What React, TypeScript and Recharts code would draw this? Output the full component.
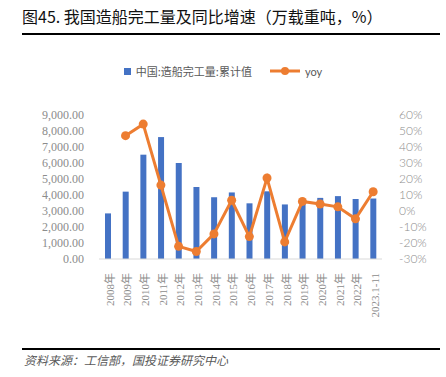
import { ComposedChart, Bar, Line, XAxis, YAxis, Legend } from "recharts";

const years = [
  "2008年", "2009年", "2010年", "2011年", "2012年", "2013年", "2014年", "2015年",
  "2016年", "2017年", "2018年", "2019年", "2020年", "2021年", "2022年", "2023.1-11",
];
const completed = [
  2850, 4210, 6520, 7620, 6000, 4500, 3860, 4160, 3480, 4230, 3410, 3560, 3820, 3930, 3750, 3780,
];
const yoy = [
  null, 47.1, 54.3, 16.2, -22.1, -25.3, -14.3, 6.7, -16.0, 20.6, -19.3, 6.0, 4.4, 2.6, -4.9, 12.0,
];
const leftTicks = [0, 1000, 2000, 3000, 4000, 5000, 6000, 7000, 8000, 9000];
const rightTicks = [-30, -20, -10, 0, 10, 20, 30, 40, 50, 60];

const BLUE = "#4472C4";
const ORANGE = "#ED7D31";
const TICK = "#8c8c8c";
const SERIF = "'Liberation Serif', 'Times New Roman', 'Noto Sans CJK SC', serif";

const data = years.map((y, i) => ({ year: y, v: completed[i], yoy: yoy[i] }));

const fmtLeft = (v: number) =>
  v.toLocaleString("en-US", { minimumFractionDigits: 2, maximumFractionDigits: 2 });

function LegendBox() {
  return (
    <div style={{ display: "flex", alignItems: "center", justifyContent: "center", fontFamily: "'Noto Sans CJK SC', sans-serif", fontSize: 11, color: "#595959" }}>
      <span style={{ width: 7, height: 7, background: BLUE, display: "inline-block", marginRight: 5 }} />
      <span style={{ marginRight: 18 }}>中国:造船完工量:累计值</span>
      <svg width={30} height={10} style={{ marginRight: 5 }}>
        <line x1={0} y1={5} x2={30} y2={5} stroke={ORANGE} strokeWidth={3} />
        <circle cx={15} cy={5} r={4} fill={ORANGE} />
      </svg>
      <span style={{ fontFamily: "Lato, sans-serif" }}>yoy</span>
    </div>
  );
}

export default function App() {
  return (
    <div style={{ position: "absolute", left: 0, top: 0, width: 446, height: 377, background: "#fff" }}>
      <div style={{ position: "absolute", left: 22, top: 4, fontFamily: "'Noto Sans CJK SC', sans-serif", fontSize: 16, fontWeight: 400, color: "#111", whiteSpace: "nowrap" }}>
        图45. 我国造船完工量及同比增速（万载重吨，%）
      </div>
      <div style={{ position: "absolute", left: 22, top: 33, width: 418, height: 1.5, background: "#000" }} />
      <ComposedChart width={446} height={377} data={data} margin={{ top: 99, right: 0, bottom: 48, left: 0 }}>
        <XAxis
          dataKey="year"
          interval={0}
          height={70}
          axisLine={{ stroke: "#d9d9d9" }}
          tickLine={false}
          angle={-90}
          textAnchor="end"
          dx={-2}
          dy={6}
          tick={{ fill: TICK, fontSize: 11, fontFamily: SERIF }}
        />
        <YAxis
          yAxisId="l"
          width={99}
          domain={[0, 9000]}
          ticks={leftTicks}
          interval={0}
          tickFormatter={fmtLeft}
          axisLine={false}
          tickLine={false}
          tickMargin={9}
          tick={{ fill: TICK, fontSize: 12, fontFamily: SERIF }}
        />
        <YAxis
          yAxisId="r"
          orientation="right"
          width={64}
          domain={[-30, 60]}
          ticks={rightTicks}
          interval={0}
          tickFormatter={(v: number) => `${v}%`}
          axisLine={false}
          tickLine={false}
          tickMargin={11}
          tick={{ fill: TICK, fontSize: 12, textAnchor: "start", fontFamily: "Lato, sans-serif", fontWeight: 300 }}
        />
        <Legend verticalAlign="top" content={() => <LegendBox />} wrapperStyle={{ top: 63, left: 0, width: 446 }} />
        <Bar yAxisId="l" dataKey="v" fill={BLUE} barSize={6} isAnimationActive={false} />
        <Line
          yAxisId="r"
          dataKey="yoy"
          stroke={ORANGE}
          strokeWidth={3}
          dot={{ r: 4.5, fill: ORANGE, stroke: ORANGE, strokeWidth: 0 }}
          activeDot={false}
          isAnimationActive={false}
        />
      </ComposedChart>
      <div style={{ position: "absolute", left: 22, top: 348, width: 418, height: 1.5, background: "#000" }} />
      <div style={{ position: "absolute", left: 24, top: 351, fontFamily: "'Noto Sans CJK SC', sans-serif", fontSize: 12, fontStyle: "italic", color: "#595959", whiteSpace: "nowrap" }}>
        资料来源：工信部，国投证券研究中心
      </div>
    </div>
  );
}
